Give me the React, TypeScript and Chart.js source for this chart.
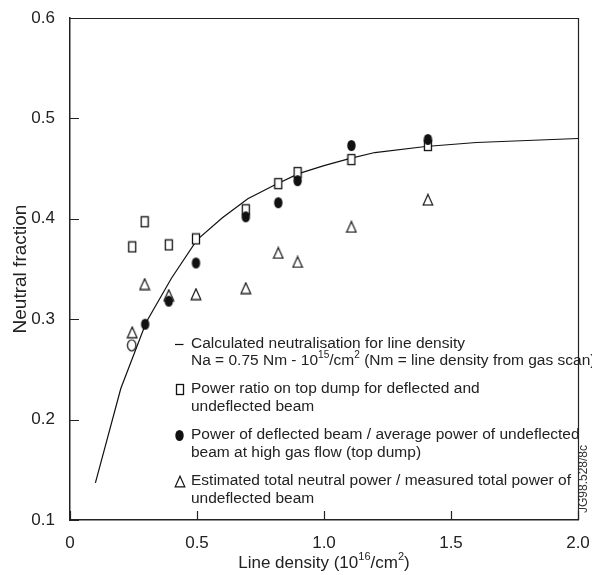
import React, { useEffect, useRef } from "react";
import { Chart, registerables } from "chart.js";

Chart.register(...registerables);

const FONT = "'Liberation Sans', Arial, Helvetica, sans-serif";
const INK = "#222";

// Calculated neutralisation curve
const curveX = [0.1, 0.2, 0.3, 0.4, 0.5, 0.6, 0.7, 0.8, 0.9, 1.0, 1.1, 1.2, 1.4, 1.6, 1.8, 2.0];
const curveY = [0.137, 0.231, 0.297, 0.341, 0.379, 0.401, 0.420, 0.433, 0.445, 0.453, 0.460, 0.466, 0.472, 0.476, 0.478, 0.480];

// Power ratio on top dump (open squares)
const squareX = [0.245, 0.294, 0.389, 0.496, 0.692, 0.820, 0.896, 1.108, 1.409];
const squareY = [0.372, 0.397, 0.374, 0.380, 0.409, 0.435, 0.446, 0.459, 0.473];

// Power of deflected beam / average undeflected (filled circles)
const circleX = [0.296, 0.389, 0.496, 0.692, 0.820, 0.896, 1.108, 1.409];
const circleY = [0.295, 0.318, 0.356, 0.402, 0.416, 0.438, 0.473, 0.479];

// Estimated total neutral power / measured total (open triangles)
const triangleX = [0.245, 0.294, 0.389, 0.496, 0.692, 0.820, 0.896, 1.108, 1.409];
const triangleY = [0.287, 0.335, 0.324, 0.325, 0.331, 0.366, 0.357, 0.392, 0.419];

// Unlabelled open circle
const openCircleX = [0.243];
const openCircleY = [0.274];

const xTickLabels = ["0", "0.5", "1.0", "1.5", "2.0"];
const yTickLabels = ["0.1", "0.2", "0.3", "0.4", "0.5", "0.6"];

const xTitle = [
  { t: "Line density (10" },
  { t: "16", sup: true },
  { t: "/cm" },
  { t: "2", sup: true },
  { t: ")" },
];
const yTitle = "Neutral fraction";
const legendLines = [
  [{ t: "Calculated neutralisation for line density" }],
  [{ t: "Na = 0.75 Nm - 10" }, { t: "15", sup: true }, { t: "/cm" }, { t: "2", sup: true }, { t: " (Nm = line density from gas scan)" }],
  [{ t: "Power ratio on top dump for deflected and" }],
  [{ t: "undeflected beam" }],
  [{ t: "Power of deflected beam / average power of undeflected" }],
  [{ t: "beam at high gas flow (top dump)" }],
  [{ t: "Estimated total neutral power / measured total power of" }],
  [{ t: "undeflected beam" }],
];
const figureCode = "JG98.528/8c";

type Seg = { t: string; sup?: boolean };

function richWidth(ctx: CanvasRenderingContext2D, segs: Seg[], size: number) {
  let w = 0;
  for (const s of segs) {
    ctx.font = `${s.sup ? size * 0.65 : size}px ${FONT}`;
    w += ctx.measureText(s.t).width;
  }
  return w;
}

function drawRich(ctx: CanvasRenderingContext2D, segs: Seg[], x: number, y: number, size: number) {
  let cx = x;
  ctx.textAlign = "left";
  ctx.textBaseline = "middle";
  for (const s of segs) {
    if (s.sup) {
      ctx.font = `${size * 0.65}px ${FONT}`;
      ctx.fillText(s.t, cx, y - size * 0.36);
    } else {
      ctx.font = `${size}px ${FONT}`;
      ctx.fillText(s.t, cx, y);
    }
    cx += ctx.measureText(s.t).width;
  }
}

function makeMarker(w: number, h: number, draw: (c: CanvasRenderingContext2D) => void) {
  const c = document.createElement("canvas");
  c.width = w;
  c.height = h;
  const ctx = c.getContext("2d")!;
  draw(ctx);
  return c;
}

function squareMarker() {
  return makeMarker(10, 13, (c) => {
    c.fillStyle = "#fff";
    c.fillRect(1, 1, 8, 11);
    c.strokeStyle = "#111";
    c.lineWidth = 1.3;
    c.strokeRect(1.5, 1.5, 7, 10);
  });
}
function dotMarker(filled: boolean) {
  return makeMarker(11, 13, (c) => {
    c.beginPath();
    c.ellipse(5.5, 6.5, 4.2, 5.5, 0, 0, Math.PI * 2);
    if (filled) {
      c.fillStyle = "#111";
      c.fill();
    } else {
      c.fillStyle = "#fff";
      c.fill();
      c.strokeStyle = "#111";
      c.lineWidth = 1.2;
      c.stroke();
    }
  });
}
function triangleMarker() {
  return makeMarker(12, 13, (c) => {
    c.beginPath();
    c.moveTo(6, 1.2);
    c.lineTo(10.8, 11.8);
    c.lineTo(1.2, 11.8);
    c.closePath();
    c.fillStyle = "#fff";
    c.fill();
    c.strokeStyle = "#111";
    c.lineWidth = 1.2;
    c.stroke();
  });
}

const pts = (xs: number[], ys: number[]) => xs.map((x, i) => ({ x, y: ys[i] }));

export default function App() {
  const ref = useRef<HTMLCanvasElement | null>(null);

  useEffect(() => {
    if (!ref.current) return;
    const sq = squareMarker();
    const dot = dotMarker(true);
    const odot = dotMarker(false);
    const tri = triangleMarker();

    const overlay = {
      id: "overlay",
      afterDraw(chart: any) {
        const { ctx, chartArea: ca, scales } = chart;
        const xs = scales.x;
        const ys = scales.y;
        ctx.save();
        // top and right frame
        ctx.strokeStyle = INK;
        ctx.lineWidth = 1.2;
        ctx.beginPath();
        ctx.moveTo(ca.left, ca.top + 0.5);
        ctx.lineTo(ca.right + 0.5, ca.top + 0.5);
        ctx.lineTo(ca.right + 0.5, ca.bottom);
        ctx.stroke();
        // inward tick marks
        ctx.lineWidth = 1.2;
        ctx.beginPath();
        for (const t of ys.ticks) {
          const py = Math.round(ys.getPixelForValue(t.value)) + 0.5;
          ctx.moveTo(ca.left, py);
          ctx.lineTo(ca.left + 9, py);
        }
        for (const t of xs.ticks) {
          const px = Math.round(xs.getPixelForValue(t.value)) + 0.5;
          ctx.moveTo(px, ca.bottom);
          ctx.lineTo(px, ca.bottom - 9);
        }
        ctx.stroke();

        // x title
        ctx.fillStyle = INK;
        const tSize = 17;
        const tw = richWidth(ctx, xTitle, tSize);
        drawRich(ctx, xTitle, (ca.left + ca.right) / 2 - tw / 2, ca.bottom + 43, tSize);

        // legend inside plot
        const lSize = 15.5;
        const tx = ca.left + 121;
        const sx = ca.left + 109.5;
        const offs = [326, 343, 371, 389, 417, 435, 463, 481];
        legendLines.forEach((segs, i) => drawRich(ctx, segs, tx, ca.top + offs[i], lSize));
        // legend symbols
        ctx.strokeStyle = "#111";
        ctx.lineWidth = 1.2;
        ctx.beginPath();
        ctx.moveTo(sx - 4.5, ca.top + offs[0] + 0.5);
        ctx.lineTo(sx + 4, ca.top + offs[0] + 0.5);
        ctx.stroke();
        ctx.drawImage(sq, Math.round(sx - 5), Math.round(ca.top + offs[2] - 6.5));
        ctx.drawImage(dot, Math.round(sx - 5.5), Math.round(ca.top + offs[4] - 6.5));
        ctx.drawImage(tri, Math.round(sx - 6), Math.round(ca.top + offs[6] - 6.5));

        // figure code, rotated
        ctx.save();
        ctx.translate(ca.right + 6, ca.bottom - 41);
        ctx.rotate(-Math.PI / 2);
        ctx.font = `12px ${FONT}`;
        ctx.fillStyle = "#333";
        ctx.textAlign = "center";
        ctx.textBaseline = "middle";
        ctx.fillText(figureCode, 0, 0);
        ctx.restore();

        ctx.restore();
      },
    };

    const chart = new Chart(ref.current, {
      type: "scatter",
      data: {
        datasets: [
          {
            label: "Calculated neutralisation",
            data: pts(curveX, curveY),
            showLine: true,
            borderColor: "#111",
            borderWidth: 1.2,
            pointRadius: 0,
            tension: 0,
            order: 5,
          },
          {
            label: "Power ratio on top dump",
            data: pts(squareX, squareY),
            pointStyle: sq as any,
            pointRadius: 5,
            order: 4,
          },
          {
            label: "Estimated total neutral power",
            data: pts(triangleX, triangleY),
            pointStyle: tri as any,
            pointRadius: 5,
            order: 3,
          },
          {
            label: "Open circle",
            data: pts(openCircleX, openCircleY),
            pointStyle: odot as any,
            pointRadius: 5,
            order: 2,
          },
          {
            label: "Power of deflected beam",
            data: pts(circleX, circleY),
            pointStyle: dot as any,
            pointRadius: 5,
            order: 1,
          },
        ],
      },
      options: {
        responsive: false,
        animation: false,
        layout: { padding: { top: 18, right: 14, left: 0, bottom: 0 } },
        plugins: { legend: { display: false }, tooltip: { enabled: false } },
        scales: {
          x: {
            type: "linear",
            min: 0,
            max: 2,
            ticks: {
              stepSize: 0.5,
              autoSkip: false,
              maxRotation: 0,
              padding: 5,
              color: INK,
              font: { family: FONT, size: 17 },
              callback: (v: any, i: number) => xTickLabels[i] ?? String(v),
            },
            grid: { display: false },
            border: { display: true, color: INK, width: 1.5 },
            afterFit: (s: any) => {
              s.height = 55;
              s.paddingLeft = 0;
              s.paddingRight = 0;
            },
          },
          y: {
            type: "linear",
            min: 0.1,
            max: 0.6,
            ticks: {
              stepSize: 0.1,
              padding: 7,
              color: INK,
              font: { family: FONT, size: 17 },
              callback: (v: any, i: number) => yTickLabels[i] ?? String(v),
            },
            grid: { display: false },
            border: { display: true, color: INK, width: 1.5 },
            title: {
              display: true,
              text: yTitle,
              color: INK,
              font: { family: FONT, size: 19 },
              padding: { top: 9, bottom: 0 },
            },
            afterFit: (s: any) => {
              s.width = 70;
              s.paddingTop = 0;
              s.paddingBottom = 0;
            },
          },
        },
      },
      plugins: [overlay],
    });
    return () => chart.destroy();
  }, []);

  return (
    <div style={{ position: "absolute", left: 0, top: 0, width: 592, height: 575, background: "#fff" }}>
      <canvas ref={ref} width={592} height={575} style={{ display: "block" }} />
    </div>
  );
}
